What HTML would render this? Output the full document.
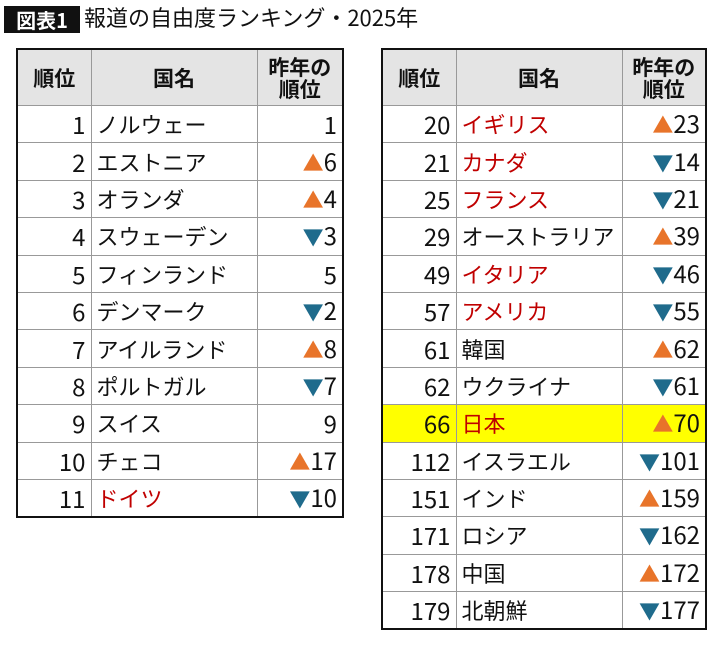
<!DOCTYPE html>
<html><head><meta charset="utf-8"><style>
body{margin:0;width:720px;height:648px;background:#fff;font-family:"Noto Sans CJK JP",sans-serif;color:#111;position:relative;overflow:hidden}
.tag{position:absolute;left:4px;top:6px;width:76px;height:27px;background:#111;color:#fff;font-weight:bold;font-size:20px;line-height:27px;text-align:center}
.ttl{position:absolute;left:84px;top:3px;font-size:22px;line-height:28px}
table{position:absolute;top:48px;border-collapse:collapse;border:2px solid #111;table-layout:fixed}
td{border:1px solid #999;height:36.4px;padding:0 5px;font-size:22px;line-height:24px;white-space:nowrap;overflow:hidden}
td.n{font-size:24px}
th{background:#e4e4e4;border:1px solid #999;height:53px;font-size:21px;font-weight:bold;line-height:22px}
.n{text-align:right}
.r{color:#c00000}
.u,.d{font-size:21px}
.u{color:#e8742a}.d{color:#1f6b8c}
.y td{background:#ffff00}
</style></head><body>
<div class="tag">図表1</div><div class="ttl">報道の自由度ランキング・2025年</div>
<table style="left:16px;width:327px">
<colgroup><col style="width:74px"><col style="width:166px"><col style="width:86px"></colgroup>
<tr><th>順位</th><th>国名</th><th>昨年の<br>順位</th></tr>
<tr><td class="n">1</td><td>ノルウェー</td><td class="n">1</td></tr>
<tr><td class="n">2</td><td>エストニア</td><td class="n"><span class="u">▲</span>6</td></tr>
<tr><td class="n">3</td><td>オランダ</td><td class="n"><span class="u">▲</span>4</td></tr>
<tr><td class="n">4</td><td>スウェーデン</td><td class="n"><span class="d">▼</span>3</td></tr>
<tr><td class="n">5</td><td>フィンランド</td><td class="n">5</td></tr>
<tr><td class="n">6</td><td>デンマーク</td><td class="n"><span class="d">▼</span>2</td></tr>
<tr><td class="n">7</td><td>アイルランド</td><td class="n"><span class="u">▲</span>8</td></tr>
<tr><td class="n">8</td><td>ポルトガル</td><td class="n"><span class="d">▼</span>7</td></tr>
<tr><td class="n">9</td><td>スイス</td><td class="n">9</td></tr>
<tr><td class="n">10</td><td>チェコ</td><td class="n"><span class="u">▲</span>17</td></tr>
<tr><td class="n">11</td><td class="r">ドイツ</td><td class="n"><span class="d">▼</span>10</td></tr>
</table>
<table style="left:381px;width:325px">
<colgroup><col style="width:74px"><col style="width:166px"><col style="width:84px"></colgroup>
<tr><th>順位</th><th>国名</th><th>昨年の<br>順位</th></tr>
<tr><td class="n">20</td><td class="r">イギリス</td><td class="n"><span class="u">▲</span>23</td></tr>
<tr><td class="n">21</td><td class="r">カナダ</td><td class="n"><span class="d">▼</span>14</td></tr>
<tr><td class="n">25</td><td class="r">フランス</td><td class="n"><span class="d">▼</span>21</td></tr>
<tr><td class="n">29</td><td>オーストラリア</td><td class="n"><span class="u">▲</span>39</td></tr>
<tr><td class="n">49</td><td class="r">イタリア</td><td class="n"><span class="d">▼</span>46</td></tr>
<tr><td class="n">57</td><td class="r">アメリカ</td><td class="n"><span class="d">▼</span>55</td></tr>
<tr><td class="n">61</td><td>韓国</td><td class="n"><span class="u">▲</span>62</td></tr>
<tr><td class="n">62</td><td>ウクライナ</td><td class="n"><span class="d">▼</span>61</td></tr>
<tr class="y"><td class="n">66</td><td class="r">日本</td><td class="n"><span class="u">▲</span>70</td></tr>
<tr><td class="n">112</td><td>イスラエル</td><td class="n"><span class="d">▼</span>101</td></tr>
<tr><td class="n">151</td><td>インド</td><td class="n"><span class="u">▲</span>159</td></tr>
<tr><td class="n">171</td><td>ロシア</td><td class="n"><span class="d">▼</span>162</td></tr>
<tr><td class="n">178</td><td>中国</td><td class="n"><span class="u">▲</span>172</td></tr>
<tr><td class="n">179</td><td>北朝鮮</td><td class="n"><span class="d">▼</span>177</td></tr>
</table>
</body></html>
